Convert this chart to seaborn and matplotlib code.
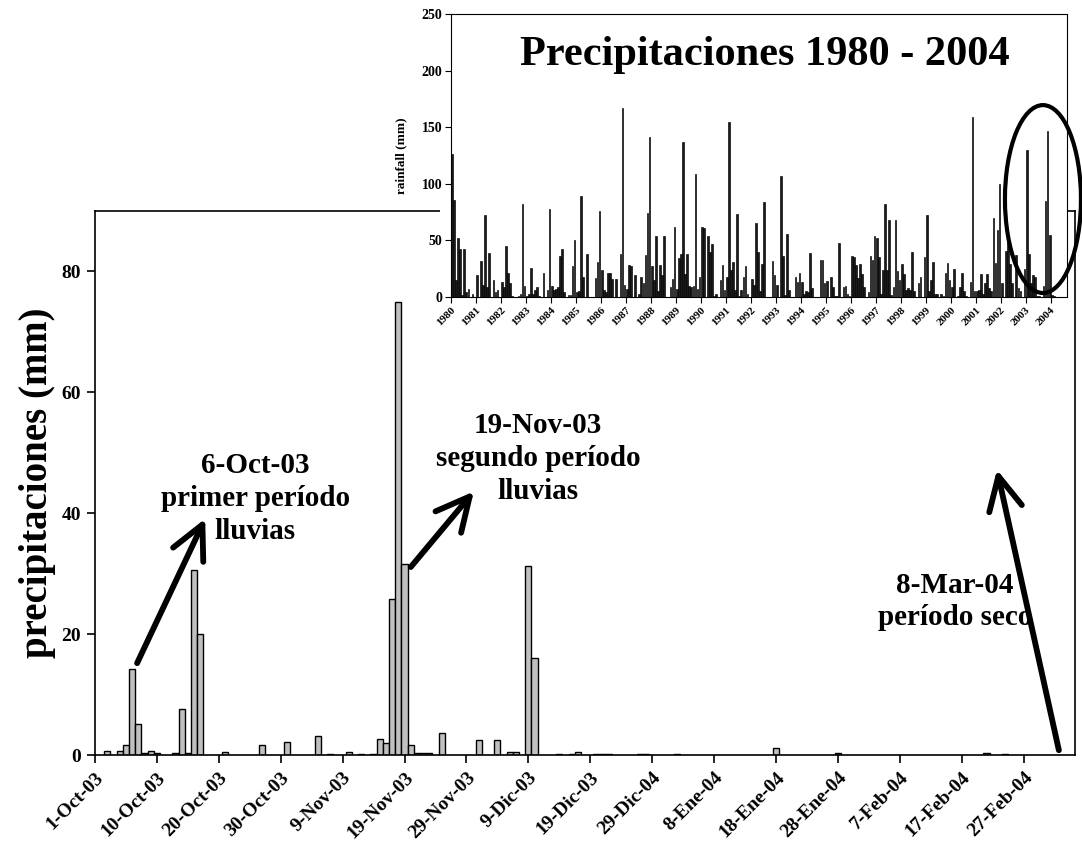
import numpy as np
import pandas as pd
import matplotlib
matplotlib.use("Agg")
import matplotlib.pyplot as plt
from matplotlib.patches import Ellipse, Rectangle
import seaborn as sns

# Daily rainfall, day 1 = 1-Oct-03
rain_day = [2, 4, 5, 6, 7, 8, 9, 10, 13, 14, 15, 16, 17, 21, 27, 31, 36, 38, 41,
            43, 45, 46, 47, 48, 49, 50, 51, 52, 53, 54, 56, 62, 65, 67, 68, 70,
            71, 75, 77, 78, 81, 82, 83, 88, 89, 94, 110, 120, 144, 147]
rain_mm = [0.7, 0.7, 1.6, 14.2, 5.1, 0.3, 0.6, 0.3, 0.3, 7.6, 0.3, 30.6, 20.1,
           0.5, 1.6, 2.1, 3.1, 0.2, 0.5, 0.2, 0.2, 2.7, 2.0, 25.8, 75.0, 31.6,
           1.7, 0.3, 0.3, 0.3, 3.7, 2.5, 2.5, 0.5, 0.5, 31.2, 16.1, 0.2, 0.2,
           0.5, 0.2, 0.2, 0.2, 0.2, 0.2, 0.2, 1.2, 0.4, 0.4, 0.2]

tick_days = list(range(0, 160, 10))
tick_labels = ["1-Oct-03", "10-Oct-03", "20-Oct-03", "30-Oct-03", "9-Nov-03",
               "19-Nov-03", "29-Nov-03", "9-Dic-03", "19-Dic-03", "29-Dic-04",
               "8-Ene-04", "18-Ene-04", "28-Ene-04", "7-Feb-04", "17-Feb-04",
               "27-Feb-04"]

# Monthly rainfall, Jan 1980 - Feb 2004 (one row per year)
monthly_mm = [
    126, 86, 15, 52, 42, 2, 42, 4, 7, 0, 3, 0,          # 1980
    19, 0, 32, 11, 72, 9, 39, 0, 15, 4, 6, 0,           # 1981
    13, 9, 45, 21, 12, 1, 0, 0, 1, 3, 82, 10,           # 1982
    1, 3, 26, 3, 6, 9, 0.5, 0, 21, 0, 6, 78,            # 1983
    10, 6, 7, 9, 36, 42, 4, 0, 1.5, 1.5, 27, 50,        # 1984
    4, 5, 89, 18, 0, 38, 0, 0, 0, 17, 31, 76,           # 1985
    24, 6, 4, 21, 21, 16, 0, 16, 0, 38, 167, 11,        # 1986
    7, 28, 27, 0, 19, 0, 3, 18, 12, 37, 74, 141,        # 1987
    27, 15, 54, 5, 28, 19, 54, 0, 0, 9, 16, 62,         # 1988
    7, 34, 38, 137, 20, 38, 10, 9, 10, 109, 7, 18,      # 1989
    62, 61, 0, 54, 40, 47, 1, 3, 0, 15, 28, 6,          # 1990
    18, 155, 24, 31, 6, 73, 1, 6, 18, 27, 3, 0,         # 1991
    16, 11, 65, 40, 5, 29, 84, 0, 0, 0, 32, 19,         # 1992
    11, 0, 107, 36, 2, 56, 6, 0, 0, 18, 13, 21,         # 1993
    13, 3, 5, 4, 39, 8, 0, 0, 0, 33, 33, 12,            # 1994
    14, 0, 18, 9, 1, 1, 48, 0, 9, 10, 3, 1,             # 1995
    36, 35, 28, 17, 29, 20, 9, 0, 4, 36, 33, 54,        # 1996
    52, 35, 3, 24, 82, 24, 68, 2, 9, 68, 23, 15,        # 1997
    29, 20, 6, 8, 6, 40, 5, 0, 12, 18, 0, 35,           # 1998
    72, 5, 15, 31, 3, 3, 0, 3, 0.5, 21, 30, 15,         # 1999
    9, 25, 0, 0.5, 9, 21, 5, 0.5, 0, 13, 159, 5,        # 2000
    5, 6, 20, 3, 12, 20, 8, 5, 70, 30, 59, 100,         # 2001
    12, 0, 41, 54, 29, 12, 0, 37, 8, 5, 0, 25,          # 2002
    130, 38, 12, 19, 18, 0.5, 0.5, 0, 10, 85, 147, 55,  # 2003
    1.5, 0.6,                                           # 2004
]
year_ticks = list(range(1980, 2005))

sns.set_style("ticks")
plt.rcParams["font.family"] = ["Liberation Serif", "DejaVu Serif"]
plt.rcParams["font.weight"] = "bold"
plt.rcParams["axes.labelweight"] = "bold"
plt.rcParams["axes.edgecolor"] = "black"
plt.rcParams["axes.labelcolor"] = "black"
plt.rcParams["text.color"] = "black"
plt.rcParams["xtick.color"] = "black"
plt.rcParams["ytick.color"] = "black"

W, H = 1082, 863
fig = plt.figure(figsize=(W / 100, H / 100), dpi=100)

# ---- main daily chart ----
ax = fig.add_axes([0.0878, 0.1251, 0.9057, 0.6304], zorder=0)
daily = pd.DataFrame({"dia": rain_day, "mm": rain_mm})
sns.barplot(data=daily, x="dia", y="mm", native_scale=True, orient="x",
            width=1.0, color="#c0c0c0", saturation=1, edgecolor="black",
            linewidth=1.0, errorbar=None, ax=ax)
ax.set_xlim(0, 158.3)
ax.set_ylim(0, 90)
ax.set_xticks(tick_days)
ax.set_xticklabels(tick_labels, rotation=45, ha="right", rotation_mode="anchor",
                   fontsize=14, fontweight="bold")
ax.set_yticks([0, 20, 40, 60, 80])
ax.set_yticklabels(["0", "20", "40", "60", "80"], fontsize=14, fontweight="bold")
ax.tick_params(axis="both", direction="out", length=6, width=1.2, pad=4)
ax.set_xlabel("")
ax.set_ylabel("precipitaciones (mm)", fontsize=28, fontweight="bold", labelpad=4)
for sp in ax.spines.values():
    sp.set_visible(True)
    sp.set_linewidth(1.2)
    sp.set_color("black")

arrow_kw = dict(arrowstyle="->,head_length=1.2,head_width=0.6", lw=4.2,
                color="black", mutation_scale=20, shrinkA=0, shrinkB=0)
txt_kw = dict(ha="center", va="center", fontsize=21, fontweight="bold",
              linespacing=1.28)

ax.annotate("", xy=(17.8, 39.1), xytext=(6.8, 15.2), arrowprops=arrow_kw)
ax.text(25.9, 42.4, "6-Oct-03\nprimer período\nlluvias", **txt_kw)

ax.annotate("", xy=(61.2, 43.6), xytext=(51.0, 31.1), arrowprops=arrow_kw)
ax.text(71.6, 49.0, "19-Nov-03\nsegundo período\nlluvias", **txt_kw)

ax.annotate("", xy=(145.7, 47.2), xytext=(155.7, 0.8), arrowprops=arrow_kw)
ax.text(138.9, 25.4, "8-Mar-04\nperíodo seco", **txt_kw)

# white backing of the inset panel
fig.add_artist(Rectangle((440 / W, 1 - 330 / H), (1067 - 440) / W, 320 / H,
                         transform=fig.transFigure, facecolor="white",
                         edgecolor="none", zorder=0.5))

# ---- inset: monthly series 1980-2004 ----
axi = fig.add_axes([0.4165, 0.6559, 0.5696, 0.3279], zorder=1)
axi.set_facecolor("white")
n_months = len(monthly_mm)
monthly = pd.DataFrame({"mes": 1980 + (np.arange(n_months) + 0.5) / 12.0,
                        "mm": monthly_mm})
sns.barplot(data=monthly, x="mes", y="mm", native_scale=True, orient="x",
            width=0.8, color="#1a1a1a", saturation=1, edgecolor="black",
            linewidth=0.45, errorbar=None, ax=axi)
axi.set_xlim(1980, 2004.65)
axi.set_ylim(0, 250)
axi.set_xticks(year_ticks)
axi.set_xticklabels([str(y) for y in year_ticks], rotation=45, ha="right",
                    rotation_mode="anchor", fontsize=8, fontweight="bold")
axi.set_yticks([0, 50, 100, 150, 200, 250])
axi.set_yticklabels(["0", "50", "100", "150", "200", "250"], fontsize=10,
                    fontweight="bold")
axi.tick_params(axis="both", direction="out", length=4, width=0.8, pad=2)
axi.set_xlabel("")
axi.set_ylabel("rainfall (mm)", fontsize=9.5, fontweight="bold", labelpad=10)
for sp in axi.spines.values():
    sp.set_visible(True)
    sp.set_linewidth(0.8)
    sp.set_color("black")
axi.text(0.51, 0.855, "Precipitaciones 1980 - 2004", transform=axi.transAxes,
         ha="center", va="center", fontsize=30.5, fontweight="bold")
axi.add_patch(Ellipse((2003.69, 86.5), width=3.04, height=166, fill=False,
                      lw=3, edgecolor="black", clip_on=False))

fig.savefig("out.png", dpi=100)
